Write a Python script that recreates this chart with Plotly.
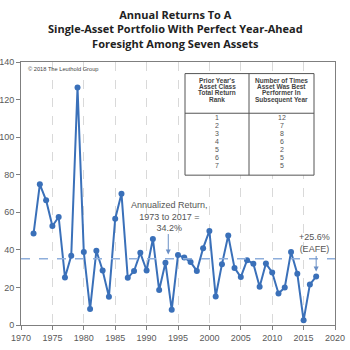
import plotly.graph_objects as go

years = list(range(1972, 2018))
returns = [48.7, 74.9, 66.4, 52.7, 57.5, 25.3, 36.8, 126.4, 38.8, 8.5,
           39.5, 29.0, 15.0, 56.6, 69.9, 25.1, 28.7, 38.4, 29.0, 45.8,
           18.6, 33.1, 8.1, 37.2, 35.9, 33.5, 28.8, 40.9, 50.1, 15.2,
           32.4, 47.6, 30.4, 25.5, 34.5, 32.6, 20.4, 32.7, 28.0, 16.8,
           20.0, 38.9, 27.3, 2.5, 21.6, 25.8]
annualized = 35.2
ranks = ["1", "2", "3", "4", "5", "6", "7"]
counts = ["12", "7", "8", "6", "2", "5", "5"]
x_ticks = [1970, 1975, 1980, 1985, 1990, 1995, 2000, 2005, 2010, 2015, 2020]
y_ticks = [0, 20, 40, 60, 80, 100, 120, 140]
title_lines = ["Annual Returns To A",
               "Single-Asset Portfolio With Perfect Year-Ahead",
               "Foresight Among Seven Assets"]

FONT = "Open Sans"
GRAY = "#595959"
BLUE = "#3a70b9"

fig = go.Figure()
fig.add_trace(go.Scatter(x=years, y=returns, mode="lines+markers",
                         line=dict(color=BLUE, width=2),
                         marker=dict(color=BLUE, size=6),
                         hoverinfo="skip", showlegend=False))

fig.add_shape(type="line", xref="paper", yref="y", x0=0, x1=1,
              y0=annualized, y1=annualized,
              line=dict(color="#8eaedb", width=1.5, dash="dash"))

L, R, T, B = 21, 335, 61.7, 325
def dx(xp):
    return 1970 + (xp - L) / (R - L) * 50
def dy(yp):
    return (B - yp) / (B - T) * 140
def py(yp):
    return (B - yp) / (B - T)

fig.add_annotation(xref="paper", yref="paper", x=(175 - L) / (R - L), y=py(28.5),
                   text="<b>" + "<br>".join(title_lines) + "</b>", showarrow=False,
                   yanchor="middle", align="center",
                   font=dict(family=FONT, size=11, color="#222222"))

tl, tr, tt, tb, th, tm = 185, 314, 73.3, 175, 113, 249
fig.add_shape(type="rect", xref="x", yref="y",
              x0=dx(tl), x1=dx(tr), y0=dy(tb), y1=dy(tt),
              line=dict(color="#555555", width=1), fillcolor="white", layer="above")
fig.add_shape(type="line", xref="x", yref="y",
              x0=dx(tl), x1=dx(tr), y0=dy(th), y1=dy(th),
              line=dict(color="#555555", width=1), layer="above")
fig.add_shape(type="line", xref="x", yref="y",
              x0=dx(tm), x1=dx(tm), y0=dy(tb), y1=dy(tt),
              line=dict(color="#555555", width=1), layer="above")

hdr1 = ["Prior Year's", "Asset Class", "Total Return", "Rank"]
hdr2 = ["Number of Times", "Asset Was Best", "Performer In", "Subsequent Year"]
hdr_y = [80.3, 86.5, 92.7, 99.4]
for yy, a, b in zip(hdr_y, hdr1, hdr2):
    fig.add_annotation(xref="x", yref="y", x=dx((tl + tm) / 2), y=dy(yy),
                       text="<b>" + a + "</b>", showarrow=False, yanchor="middle",
                       font=dict(family="Arial", size=6.5, color="#444444"))
    fig.add_annotation(xref="x", yref="y", x=dx((tm + tr) / 2), y=dy(yy),
                       text="<b>" + b + "</b>", showarrow=False, yanchor="middle",
                       font=dict(family="Arial", size=6.5, color="#444444"))
for i, (a, b) in enumerate(zip(ranks, counts)):
    yy = 117.7 + i * 8
    fig.add_annotation(xref="x", yref="y", x=dx((tl + tm) / 2), y=dy(yy),
                       text=a, showarrow=False, yanchor="middle",
                       font=dict(family="Arial", size=7, color="#555555"))
    fig.add_annotation(xref="x", yref="y", x=dx((tm + tr) / 2), y=dy(yy),
                       text=b, showarrow=False, yanchor="middle",
                       font=dict(family="Arial", size=7, color="#555555"))

fig.add_annotation(xref="x", yref="y", x=dx(26), y=dy(68.5),
                   xanchor="left", yanchor="middle", text="© 2018 The Leuthold Group",
                   showarrow=False,
                   font=dict(family="Arial", size=5.7, color="#444444"))

fig.add_annotation(x=1993.45, y=37.5, ax=0, ay=-22, text="", showarrow=True,
                   arrowhead=2, arrowsize=1, arrowwidth=1, arrowcolor="#6a8fc5")
fig.add_annotation(x=1993.7, y=57.5, text="Annualized Return,<br>1973 to 2017 =<br>34.2%",
                   showarrow=False, align="center", yanchor="middle",
                   font=dict(family="Arial", size=9, color="#555555"))
fig.add_annotation(x=2017.0, y=28.5, ax=0, ay=-17, text="", showarrow=True,
                   arrowhead=2, arrowsize=1, arrowwidth=1, arrowcolor="#6a8fc5")
fig.add_annotation(x=2016.7, y=43.8, text="+25.6%<br>(EAFE)",
                   showarrow=False, align="center", yanchor="middle",
                   font=dict(family="Arial", size=9, color="#555555"))

fig.update_layout(
    width=350, height=350,
    margin=dict(l=21, r=15, t=61.7, b=25, autoexpand=False),
    paper_bgcolor="white", plot_bgcolor="white",
    xaxis=dict(range=[1970, 2020], tickvals=x_ticks, showgrid=True,
               gridcolor="#d9d9d9", griddash="dash", gridwidth=1,
               showline=True, linecolor="#7f7f7f", mirror=True, automargin=False,
               ticks="outside", ticklen=4, tickcolor="#7f7f7f", zeroline=False,
               tickfont=dict(family="Arial", size=9, color=GRAY)),
    yaxis=dict(range=[0, 140], tickvals=y_ticks, showgrid=False,
               showline=True, linecolor="#7f7f7f", mirror=True, automargin=False,
               ticks="outside", ticklen=4, tickcolor="#7f7f7f", zeroline=False,
               tickfont=dict(family="Arial", size=9, color=GRAY)),
)

fig.write_html("out.html")
